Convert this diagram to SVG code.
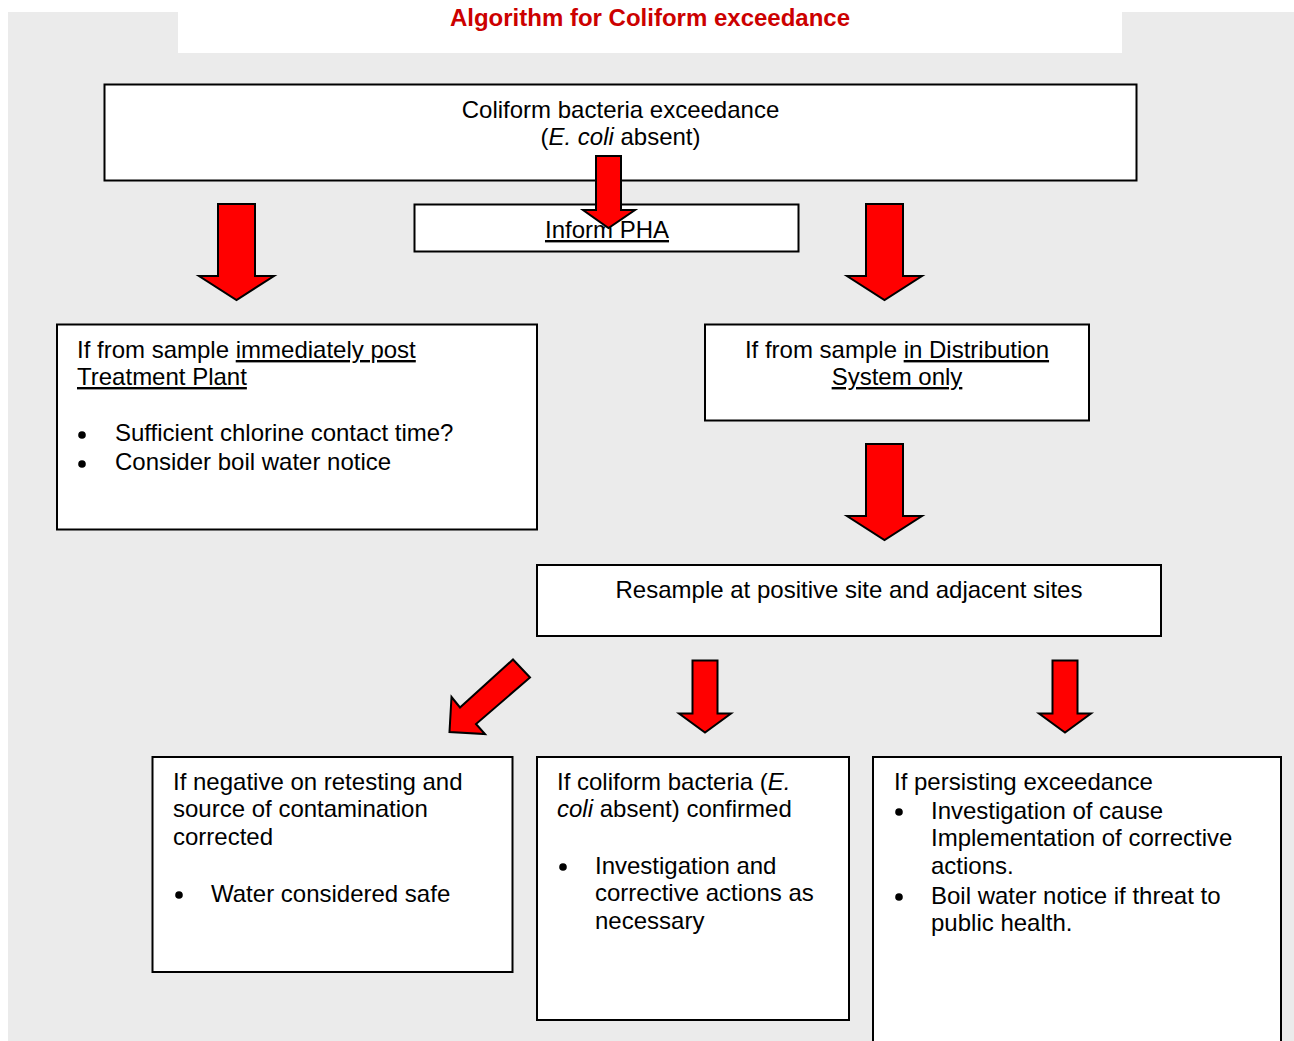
<svg xmlns="http://www.w3.org/2000/svg" width="1294" height="1041" viewBox="0 0 1294 1041">
<defs>
<style>
.box{fill:#fff;stroke:#000;stroke-width:2}
.t{font-family:"Liberation Sans",Arial,sans-serif;font-size:24px;fill:#000}
.c{text-anchor:middle}
.u{text-decoration:underline}
.i{font-style:italic}
.arr{fill:#ff0000;stroke:#000;stroke-width:2;stroke-linejoin:miter}
.title{font-family:"Liberation Sans",Arial,sans-serif;font-size:24px;font-weight:bold;fill:#cc0000;text-anchor:middle}
</style>
</defs>
<rect x="8" y="12" width="1286" height="1029" fill="#ebebeb"/>
<rect x="178" y="12" width="944" height="41" fill="#fff"/>
<text class="title" x="650" y="26">Algorithm for Coliform exceedance</text>

<g id="node-top">
<rect class="box" x="104.5" y="84.5" width="1032" height="96"/>
<text class="t c" x="620.5" y="118">Coliform bacteria exceedance</text>
<text class="t c" x="620.5" y="145">(<tspan class="i">E. coli</tspan> absent)</text>
</g>
<g id="node-pha">
<rect class="box" x="414.5" y="204.5" width="384" height="47"/>
<text class="t c u" x="607" y="238">Inform PHA</text>
</g>
<g id="node-plant">
<rect class="box" x="57" y="324.5" width="480" height="205"/>
<text class="t" x="77" y="358">If from sample <tspan class="u">immediately post</tspan></text>
<text class="t u" x="77" y="385">Treatment Plant</text>
<circle cx="82" cy="435" r="3.8"/>
<text class="t" x="115" y="441">Sufficient chlorine contact time?</text>
<circle cx="82" cy="464" r="3.8"/>
<text class="t" x="115" y="470">Consider boil water notice</text>
</g>
<g id="node-dist">
<rect class="box" x="705" y="324.5" width="384" height="96"/>
<text class="t c" x="897" y="358">If from sample <tspan class="u">in Distribution</tspan></text>
<text class="t c u" x="897" y="385">System only</text>
</g>
<g id="node-resample">
<rect class="box" x="537" y="565" width="624" height="71"/>
<text class="t c" x="849" y="598">Resample at positive site and adjacent sites</text>
</g>
<g id="node-negative">
<rect class="box" x="152.5" y="757" width="360" height="215"/>
<text class="t" x="173" y="790">If negative on retesting and</text>
<text class="t" x="173" y="817">source of contamination</text>
<text class="t" x="173" y="845">corrected</text>
<circle cx="179" cy="895" r="3.8"/>
<text class="t" x="211" y="902">Water considered safe</text>
</g>
<g id="node-confirmed">
<rect class="box" x="537" y="757" width="312" height="263"/>
<text class="t" x="557" y="790">If coliform bacteria (<tspan class="i">E.</tspan></text>
<text class="t" x="557" y="817"><tspan class="i">coli</tspan> absent) confirmed</text>
<circle cx="563" cy="867" r="3.8"/>
<text class="t" x="595" y="874">Investigation and</text>
<text class="t" x="595" y="901">corrective actions as</text>
<text class="t" x="595" y="929">necessary</text>
</g>
<g id="node-persisting">
<rect class="box" x="873" y="757" width="408" height="300"/>
<text class="t" x="894" y="790">If persisting exceedance</text>
<circle cx="899" cy="812" r="3.8"/>
<text class="t" x="931" y="819">Investigation of cause</text>
<text class="t" x="931" y="846">Implementation of corrective</text>
<text class="t" x="931" y="874">actions.</text>
<circle cx="899" cy="897" r="3.8"/>
<text class="t" x="931" y="904">Boil water notice if threat to</text>
<text class="t" x="931" y="931">public health.</text>
</g>

<g id="connectors">
<polygon class="arr" points="218,204 255,204 255,276 274,276 236.5,300 199,276 218,276"/>
<polygon class="arr" points="596,156 621,156 621,210 635,210 608.5,228 583,210 596,210"/>
<polygon class="arr" points="866,204 903,204 903,276 922,276 884.5,300 847,276 866,276"/>
<polygon class="arr" points="866,444 903,444 903,516 922,516 884.5,540 847,516 866,516"/>
<polygon class="arr" points="513,659.5 530,677.5 476,724 485,734 449.5,732 451.5,697 460,707.5"/>
<polygon class="arr" points="692.5,660.5 717.5,660.5 717.5,713.5 731,713.5 705,732.5 679,713.5 692.5,713.5"/>
<polygon class="arr" points="1052.5,660.5 1077.5,660.5 1077.5,713.5 1091,713.5 1065,732.5 1039,713.5 1052.5,713.5"/>
</g>
</svg>
